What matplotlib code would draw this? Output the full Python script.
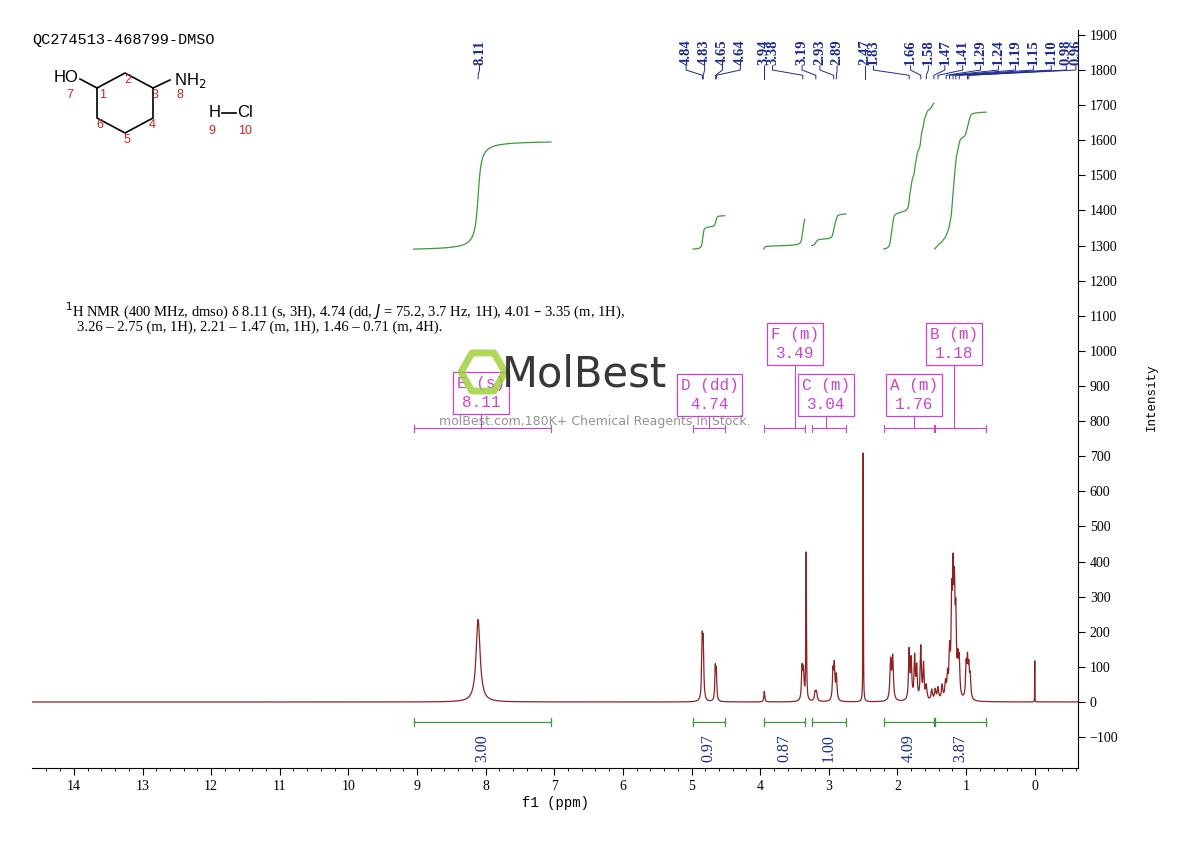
import numpy as np
import matplotlib
matplotlib.use("Agg")
import matplotlib.pyplot as plt

# peak table: ppm, height, half-width (ppm)
peak_ppm = [8.11, 4.845, 4.83, 4.655, 4.64, 3.94, 3.39, 3.37, 3.33, 3.20, 3.18,
            2.94, 2.92, 2.89, 2.50, 2.10, 2.07, 1.83, 1.80, 1.75, 1.72, 1.66, 1.62,
            1.58, 1.50, 1.45, 1.41, 1.35, 1.30, 1.27, 1.24, 1.21, 1.19, 1.17, 1.15,
            1.12, 1.10, 1.00, 0.98, 0.96, 0.94, 0.00]
peak_h = [235, 160, 150, 90, 80, 30, 90, 80, 420, 25, 25,
          80, 95, 70, 710, 110, 120, 140, 110, 120, 90, 150, 100,
          40, 30, 30, 35, 40, 45, 60, 120, 250, 300, 260, 200,
          90, 100, 90, 100, 80, 60, 120]
peak_w = [0.035, 0.009, 0.009, 0.008, 0.008, 0.008, 0.01, 0.01, 0.005, 0.012, 0.012,
          0.01, 0.01, 0.01, 0.003, 0.012, 0.012, 0.01, 0.01, 0.01, 0.01, 0.01, 0.01,
          0.012, 0.012, 0.012, 0.012, 0.012, 0.012, 0.01, 0.01, 0.01, 0.01, 0.01, 0.01,
          0.01, 0.01, 0.01, 0.01, 0.01, 0.01, 0.0015]

# integrals: range, value, curve start/end heights
int_lo = [7.05, 4.52, 3.35, 2.75, 1.47, 0.71]
int_hi = [9.05, 4.98, 3.95, 3.25, 2.20, 1.46]
int_val = ["3.00", "0.97", "0.87", "1.00", "4.09", "3.87"]
curve_lo = [1290, 1290, 1290, 1300, 1290, 1290]
curve_hi = [1595, 1385, 1375, 1390, 1705, 1680]

# multiplet boxes
mult_name = ["E (s)", "D (dd)", "F (m)", "C (m)", "A (m)", "B (m)"]
mult_ppm = ["8.11", "4.74", "3.49", "3.04", "1.76", "1.18"]
box_x = [8.07, 4.74, 3.49, 3.04, 1.76, 1.18]
box_y = [880, 875, 1020, 875, 875, 1020]

# top peak labels: text, label position (ppm), peak position (ppm)
lab_txt = ["8.11", "4.84", "4.83", "4.65", "4.64", "3.94", "3.38", "3.19", "2.93", "2.89",
           "2.47", "1.83", "1.66", "1.58", "1.47", "1.41", "1.29", "1.24", "1.19", "1.15",
           "1.10", "0.98", "0.96"]
lab_pos = [8.09, 5.08, 4.81, 4.55, 4.29, 3.94, 3.82, 3.39, 3.13, 2.88,
           2.47, 2.35, 1.81, 1.55, 1.31, 1.05, 0.79, 0.53, 0.28, 0.02,
           -0.24, -0.46, -0.60]
lab_peak = [8.11, 4.84, 4.83, 4.65, 4.64, 3.94, 3.38, 3.19, 2.93, 2.89,
            2.47, 1.83, 1.66, 1.58, 1.47, 1.41, 1.29, 1.24, 1.19, 1.15,
            1.10, 0.98, 0.96]

x = np.linspace(-0.65, 14.65, 30000)
y = np.zeros_like(x)
for p, h, w in zip(peak_ppm, peak_h, peak_w):
    y += h * w**2 / ((x - p)**2 + w**2)

W, H = 1190, 841
fig = plt.figure(figsize=(W / 100, H / 100), dpi=100)
ax = fig.add_axes([32 / W, 1 - 768 / H, (1078 - 32) / W, (768 - 30) / H])
ax.plot(x, y, color="#8b2323", lw=0.9)
ax.set_xlim(14.61, -0.63)
ax.set_ylim(-188, 1914)

serif = "Liberation Serif"
mono = "Liberation Mono"
green = "#3a9a3a"
mag = "#cc44cc"
blue = "#1c2a8c"

# integrals
for lo, hi, v, c0, c1 in zip(int_lo, int_hi, int_val, curve_lo, curve_hi):
    ax.plot([hi, lo], [-57, -57], color=green, lw=0.9)
    for e in (hi, lo):
        ax.plot([e, e], [-45, -69], color=green, lw=0.9)
    mid = (hi + lo) / 2
    ax.text(mid, -92, v, rotation=90, ha="center", va="top", fontsize=11.5,
            color=blue, family=serif)
    m = (x >= lo) & (x <= hi)
    xs = x[m][::-1]
    cs = np.cumsum(y[m][::-1])
    cs = c0 + (c1 - c0) * cs / cs[-1]
    ax.plot(xs, cs, color=green, lw=0.9)

# multiplet brackets and boxes
for lo, hi, bx, by, n, p in zip(int_lo, int_hi, box_x, box_y, mult_name, mult_ppm):
    ax.plot([hi, lo], [780, 780], color=mag, lw=0.8)
    for e in (hi, lo):
        ax.plot([e, e], [770, 790], color=mag, lw=0.8)
    ax.plot([bx, bx], [780, by - 60], color=mag, lw=0.8)
    ax.text(bx, by, n + "\n" + p, ha="center", va="center", fontsize=11.5,
            color=mag, family=mono, linespacing=1.3,
            bbox=dict(boxstyle="square,pad=0.25", fc="none", ec=mag, lw=0.9))

# top peak labels
for t, lp, pk in zip(lab_txt, lab_pos, lab_peak):
    ax.text(lp, 1815, t, rotation=90, ha="center", va="bottom", fontsize=10.5,
            color=blue, family=serif, fontweight="bold")
    ax.plot([lp, lp, pk, pk], [1812, 1800, 1785, 1775], color=blue, lw=0.7)

ax.spines["left"].set_visible(False)
ax.spines["top"].set_visible(False)
ax.yaxis.tick_right()
ax.set_yticks(np.arange(-100, 1901, 100))
ax.set_xticks(np.arange(0, 15, 1))
ax.set_xticks(np.arange(-0.6, 14.6, 0.2), minor=True)
ax.tick_params(labelsize=10, length=5)
ax.tick_params(which="minor", length=2.5)
for lab in ax.get_xticklabels() + ax.get_yticklabels():
    lab.set_family(serif)
ax.set_xlabel("f1 (ppm)", family=mono, fontsize=10, labelpad=2)
fig.text(1152 / W, 1 - 397 / H, "Intensity", rotation=90, ha="center", va="center",
         family=mono, fontsize=9)

# header and description
fig.text(32 / W, 1 - 40 / H, "QC274513-468799-DMSO", family=mono, fontsize=11, va="center")
fig.text(65 / W, 1 - 311 / H,
         "$^{1}$H NMR (400 MHz, dmso) δ 8.11 (s, 3H), 4.74 (dd, $J$ = 75.2, 3.7 Hz, 1H), 4.01 – 3.35 (m, 1H),",
         family=serif, fontsize=10.5, va="center")
fig.text(77 / W, 1 - 327 / H,
         "3.26 – 2.75 (m, 1H), 2.21 – 1.47 (m, 1H), 1.46 – 0.71 (m, 4H).",
         family=serif, fontsize=10.5, va="center")

# structure
def fx(px, py):
    return px / W, 1 - py / H

ring = [(97, 88), (125, 73), (153, 88), (153, 118), (125, 133), (97, 118), (97, 88)]
fig.add_artist(plt.Line2D([fx(*p)[0] for p in ring], [fx(*p)[1] for p in ring],
                          color="black", lw=1.2))
for a, b in [((80, 79), (97, 88)), ((153, 88), (170, 80)), ((222, 113), (236, 113))]:
    fig.add_artist(plt.Line2D([fx(*a)[0], fx(*b)[0]], [fx(*a)[1], fx(*b)[1]],
                              color="black", lw=1.2))
for t, px, py, c, s in [("HO", 66, 77, "black", 12), ("NH$_2$", 190, 80, "black", 12),
                        ("H", 215, 113, "black", 12), ("Cl", 245, 113, "black", 12),
                        ("7", 70, 95, "#cc2222", 9), ("1", 103, 95, "#cc2222", 9),
                        ("2", 128, 80, "#cc2222", 9), ("3", 155, 95, "#cc2222", 9),
                        ("8", 180, 95, "#cc2222", 9), ("4", 152, 125, "#cc2222", 9),
                        ("5", 127, 140, "#cc2222", 9), ("6", 100, 125, "#cc2222", 9),
                        ("9", 212, 131, "#cc2222", 9), ("10", 245, 131, "#cc2222", 9)]:
    fig.text(*fx(px, py), t, color=c, fontsize=s, ha="center", va="center",
             family="Liberation Sans")

# watermark
fig.text(*fx(585, 375), "MolBest", fontsize=30, ha="center", va="center",
         color="#222222", family="DejaVu Sans Condensed", alpha=0.9)
hexx = 483 + 22 * np.cos(np.linspace(0, 2 * np.pi, 7))
hexy = 372 + 22 * np.sin(np.linspace(0, 2 * np.pi, 7))
fig.add_artist(plt.Line2D(hexx / W, 1 - hexy / H, color="#9acd32", lw=5, alpha=0.8))
fig.text(*fx(595, 421), "molBest.com,180K+ Chemical Reagents In Stock.", fontsize=9,
         ha="center", va="center", color="#777777", alpha=0.8)

fig.savefig("out.png", dpi=100)
